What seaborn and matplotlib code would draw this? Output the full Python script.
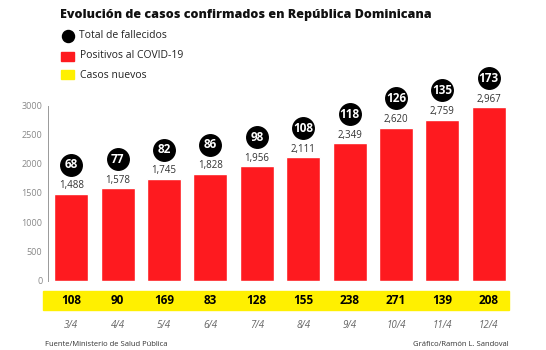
import matplotlib
matplotlib.use("Agg")
import matplotlib.pyplot as plt
import matplotlib.transforms as mtrans
from matplotlib.patches import Rectangle
import seaborn as sns
import pandas as pd

dates = ["3/4", "4/4", "5/4", "6/4", "7/4", "8/4", "9/4", "10/4", "11/4", "12/4"]
positivos = [1488, 1578, 1745, 1828, 1956, 2111, 2349, 2620, 2759, 2967]
fallecidos = [68, 77, 82, 86, 98, 108, 118, 126, 135, 173]
nuevos = [108, 90, 169, 83, 128, 155, 238, 271, 139, 208]
yticks = [0, 500, 1000, 1500, 2000, 2500, 3000]

red = "#fe1a1f"
yellow = "#fff000"
W, H = 546, 350

df = pd.DataFrame({"fecha": dates, "positivos": positivos})

sns.set_style("white")
plt.rcParams["font.family"] = ["Open Sans", "DejaVu Sans"]

fig = plt.figure(figsize=(5.46, 3.5), dpi=100)
ax = fig.add_axes([48 / W, 1 - 280.5 / H, (512 - 48) / W, 175 / H])

sns.barplot(data=df, x="fecha", y="positivos", color=red, saturation=1,
            width=0.73, ax=ax)
ax.set_xlim(-0.5, 9.5)
ax.set_ylim(0, 3000)
ax.set_yticks(yticks)
ax.set_yticklabels([str(t) for t in yticks], color="#888888", fontsize=6.5)
ax.tick_params(axis="y", length=3, width=0.6, color="#999999", pad=1)
ax.set_xticks([])
ax.set_xlabel("")
ax.set_ylabel("")
for s in ["top", "right", "bottom"]:
    ax.spines[s].set_visible(False)
ax.spines["left"].set_color("#999999")
ax.spines["left"].set_linewidth(0.7)

# value labels and death circles
circ = mtrans.offset_copy(ax.transData, fig=fig, x=0, y=21, units="points")
for i, (v, d) in enumerate(zip(positivos, fallecidos)):
    ax.annotate(f"{v:,}", (i, v), xytext=(0, 2), textcoords="offset points",
                ha="center", va="bottom", fontsize=7, color="#333333")
    ax.scatter([i], [v], s=240, color="black", transform=circ, clip_on=False, zorder=5)
    ax.text(i, v, str(d), transform=circ, ha="center", va="center", color="white",
            fontsize=8.5, fontweight="bold", zorder=6, clip_on=False)

# yellow band with new cases, and dates
fig.patches.append(Rectangle((43 / W, 1 - 310 / H), (509 - 43) / W, 19 / H,
                             transform=fig.transFigure, color=yellow, zorder=-1))
bt = mtrans.blended_transform_factory(ax.transData, fig.transFigure)
for i, (n, f) in enumerate(zip(nuevos, dates)):
    fig.text(i, 1 - 300.5 / H, str(n), transform=bt, ha="center",
             va="center", fontsize=8.5, fontweight="bold", color="black", zorder=5)
    fig.text(i, 1 - 325 / H, f, transform=bt, ha="center", va="center",
             fontsize=7, style="italic", color="#666666")

# title and legend
fig.text(60 / W, 1 - 15 / H, "Evolución de casos confirmados en República Dominicana",
         ha="left", va="center", fontsize=9, fontweight="heavy",
         fontstretch="condensed", color="#111111")
ax.scatter([68 / W], [1 - 36 / H], s=75, color="black", transform=fig.transFigure,
           clip_on=False)
fig.text(79 / W, 1 - 36 / H, "Total de fallecidos", ha="left", va="center",
         fontsize=7.5, color="#222222")
fig.patches.append(Rectangle((61 / W, 1 - 61 / H), 13 / W, 9 / H,
                             transform=fig.transFigure, color=red))
fig.text(80 / W, 1 - 56 / H, "Positivos al COVID-19", ha="left", va="center",
         fontsize=7.5, color="#222222")
fig.patches.append(Rectangle((61 / W, 1 - 79 / H), 13 / W, 9 / H,
                             transform=fig.transFigure, color=yellow))
fig.text(80 / W, 1 - 75 / H, "Casos nuevos", ha="left", va="center",
         fontsize=7.5, color="#222222")

fig.text(45 / W, 1 - 344 / H, "Fuente/Ministerio de Salud Pública", ha="left",
         va="center", fontsize=5.5, color="#333333")
fig.text(509 / W, 1 - 344 / H, "Gráfico/Ramón L. Sandoval", ha="right",
         va="center", fontsize=5.5, color="#333333")

fig.savefig("out.png", dpi=100)
